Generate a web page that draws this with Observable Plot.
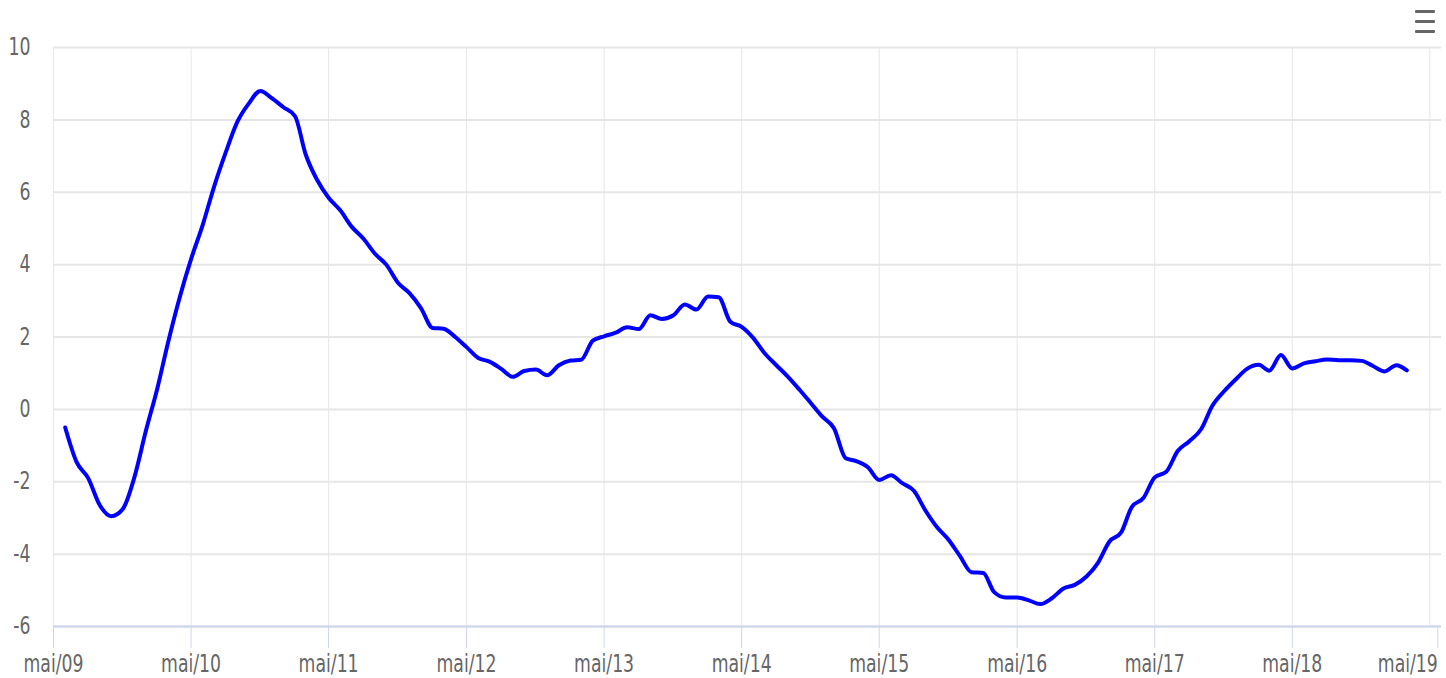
<!DOCTYPE html>
<html>
<head>
<meta charset="utf-8">
<script src="https://cdn.jsdelivr.net/npm/d3@7"></script>
<script src="https://cdn.jsdelivr.net/npm/@observablehq/plot@0.6"></script>
<style>
  html, body { margin: 0; padding: 0; background: #fff; }
  #wrap { position: relative; width: 1446px; height: 678px; }
  #menu { position: absolute; left: 1415px; top: 10px; width: 20px; }
  #menu span { display: block; height: 3px; background: #666; margin-bottom: 7px; border-radius: 1px; }
</style>
</head>
<body>
<div id="wrap">
  <div id="chart"></div>
  <div id="menu"><span></span><span></span><span></span></div>
</div>
<script>
// Series: monthly values from jun/2009 to mar/2019
const firstMonth = "2009-06-01";
const values = [
  -0.5, -1.45, -1.9, -2.65, -2.95, -2.75, -1.9, -0.6, 0.6, 1.85, 3.1,
  4.15, 5.1, 6.15, 7.1, 7.95, 8.45, 8.8, 8.6, 8.35, 8.1, 7.05, 6.33,
  5.85, 5.5, 5.05, 4.72, 4.3, 4.0, 3.5, 3.22, 2.8, 2.25, 2.23, 2.0,
  1.72, 1.42, 1.32, 1.12, 0.9, 1.06, 1.1, 0.94, 1.22, 1.35, 1.37, 1.9,
  2.02, 2.12, 2.27, 2.22, 2.6, 2.5, 2.6, 2.9, 2.76, 3.12, 3.1, 2.42,
  2.28, 1.97, 1.55, 1.22, 0.9, 0.55, 0.17, -0.2, -0.52, -1.35, -1.43, -1.6,
  -1.95, -1.82, -2.04, -2.25, -2.8, -3.25, -3.6, -4.05, -4.5, -4.52, -5.05, -5.2,
  -5.2, -5.28, -5.38, -5.22, -4.95, -4.85, -4.62, -4.25, -3.65, -3.4, -2.7, -2.45,
  -1.88, -1.72, -1.15, -0.88, -0.55, 0.1, 0.5, 0.82, 1.12, 1.23, 1.07, 1.5,
  1.13, 1.27, 1.33, 1.38, 1.36, 1.36, 1.34, 1.2, 1.05, 1.22, 1.08
];
const xTickDates = ["2009-05-01","2010-05-01","2011-05-01","2012-05-01","2013-05-01","2014-05-01",
  "2015-05-01","2016-05-01","2017-05-01","2018-05-01","2019-05-01"];
const xTickLabels = ["mai/09","mai/10","mai/11","mai/12","mai/13","mai/14",
  "mai/15","mai/16","mai/17","mai/18","mai/19"];
const yTicks = [-6, -4, -2, 0, 2, 4, 6, 8, 10];
const xDomain = ["2009-05-01", "2019-06-01"];
const yDomain = [-6, 10];

const start = new Date(firstMonth);
const data = values.map((v, i) => ({date: d3.utcMonth.offset(start, i), value: v}));
const xTicks = xTickDates.map(d => new Date(d));
const labelOf = new Map(xTicks.map((d, i) => [+d, xTickLabels[i]]));
const innerTicks = xTicks.slice(0, -1);
const lastTick = xTicks.slice(-1);

const chart = Plot.plot({
  width: 1446,
  height: 678,
  marginTop: 47,
  marginBottom: 52,
  marginLeft: 53,
  marginRight: 5,
  style: {fontFamily: "'DejaVu Sans Condensed', 'DejaVu Sans', sans-serif", fontSize: "24px", background: "#fff", overflow: "visible"},
  x: {type: "utc", domain: xDomain.map(d => new Date(d))},
  y: {domain: yDomain},
  marks: [
    Plot.gridY(yTicks, {stroke: "#e6e6e6", strokeOpacity: 1, strokeWidth: 2}),
    Plot.gridX(xTicks, {stroke: "#e6e6e6", strokeOpacity: 1, strokeWidth: 1}),
    Plot.ruleY([yDomain[0]], {stroke: "#ccd6eb", strokeWidth: 2}),
    Plot.axisY(yTicks, {tickSize: 0, tickPadding: 23, fill: "#666", label: null, tickFormat: d => String(d)}),
    Plot.axisX(innerTicks, {tickSize: 22, tickPadding: 6, stroke: "#ccd6eb", fill: "#666", label: null, tickFormat: d => labelOf.get(+d)}),
    Plot.axisX(lastTick, {tickSize: 22, tickPadding: 6, stroke: "#ccd6eb", fill: "#666", label: null, textAnchor: "end", dx: 8, tickFormat: d => labelOf.get(+d)}),
    Plot.lineY(data, {x: "date", y: "value", stroke: "#0000ff", strokeWidth: 4, curve: "monotone-x"})
  ]
});
document.getElementById("chart").appendChild(chart);
// narrow the tick labels horizontally to match the condensed face of the original
chart.querySelectorAll("text").forEach(t => {
  const len = t.getComputedTextLength();
  if (len > 0) {
    t.setAttribute("textLength", (len * 0.8).toFixed(1));
    t.setAttribute("lengthAdjust", "spacingAndGlyphs");
  }
});
</script>
</body>
</html>
